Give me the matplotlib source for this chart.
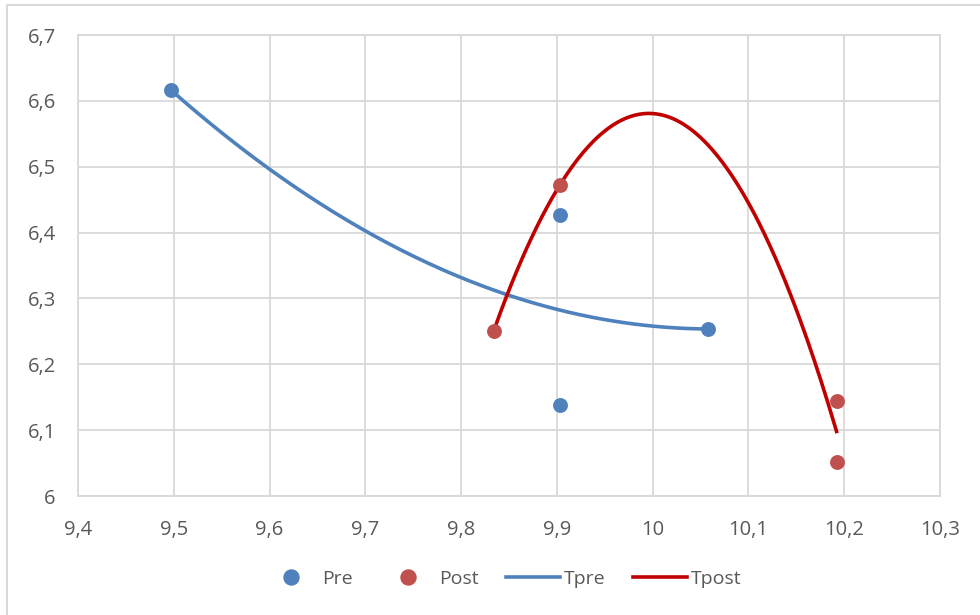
import numpy as np
import matplotlib
matplotlib.use("Agg")
import matplotlib.pyplot as plt
from matplotlib.ticker import FuncFormatter, MultipleLocator
from matplotlib.lines import Line2D

pre_x = [9.497, 9.903, 9.903, 10.058]
pre_y = [6.6165, 6.4267, 6.138, 6.2536]
post_x = [9.834, 9.903, 10.192, 10.192]
post_y = [6.2506, 6.472, 6.1443, 6.0517]

series_names = ["Pre", "Post", "Tpre", "Tpost"]
blue = "#4f81bd"
red_pt = "#c0504d"
red_line = "#c00000"

plt.rcParams['font.family'] = ['Open Sans', 'DejaVu Sans']

fig = plt.figure(figsize=(9.8, 6.15), dpi=100)
ax = fig.add_axes([78/980, 1-496/615, (940-78)/980, (496-35)/615])

# Polynomial (order 2) trendlines, as in the spreadsheet
def trend(x, y):
    c = np.polyfit(x, y, 2)
    xs = np.linspace(min(x), max(x), 200)
    return xs, np.polyval(c, xs)

tx, ty = trend(pre_x, pre_y)
ax.plot(tx, ty, color=blue, lw=2.6, zorder=3, label=series_names[2])
tx2, ty2 = trend(post_x, post_y)
ax.plot(tx2, ty2, color=red_line, lw=2.6, zorder=3, label=series_names[3])

ax.scatter(pre_x, pre_y, s=115, color=blue, zorder=4, label=series_names[0], linewidths=0)
ax.scatter(post_x, post_y, s=115, color=red_pt, zorder=4, label=series_names[1], linewidths=0)

ax.set_xlim(9.4, 10.3)
ax.set_ylim(6.0, 6.7)
ax.xaxis.set_major_locator(MultipleLocator(0.1))
ax.yaxis.set_major_locator(MultipleLocator(0.1))

def fmt(v, pos):
    s = f"{v:.1f}"
    if s.endswith(".0"):
        s = s[:-2]
    return s.replace(".", ",")

ax.xaxis.set_major_formatter(FuncFormatter(fmt))
ax.yaxis.set_major_formatter(FuncFormatter(fmt))
ax.grid(True, color="#d9d9d9", lw=1.3)
ax.set_axisbelow(True)
for sp in ax.spines.values():
    sp.set_color("#d9d9d9")
    sp.set_linewidth(1.3)
ax.tick_params(length=0, labelsize=14.5, labelcolor="#595959")
ax.tick_params(axis='y', pad=16)
ax.tick_params(axis='x', pad=17)

h = [Line2D([], [], marker='o', ls='', color=blue, markersize=10.8),
     Line2D([], [], marker='o', ls='', color=red_pt, markersize=10.8),
     Line2D([], [], color=blue, lw=2.6),
     Line2D([], [], color=red_line, lw=2.6)]
fig.legend(h, series_names, loc='center', bbox_to_anchor=(503/980, 1-579/615), ncol=4,
           frameon=False, fontsize=14, labelcolor="#595959",
           handlelength=2.8, columnspacing=1.4, handletextpad=0.2)

fig.add_artist(Line2D([7/980, 1], [1-5/615, 1-5/615], color="#d9d9d9", lw=1.5, transform=fig.transFigure))
fig.add_artist(Line2D([7/980, 7/980], [0, 1-5/615], color="#d9d9d9", lw=1.5, transform=fig.transFigure))

fig.savefig("out.png", dpi=100)
